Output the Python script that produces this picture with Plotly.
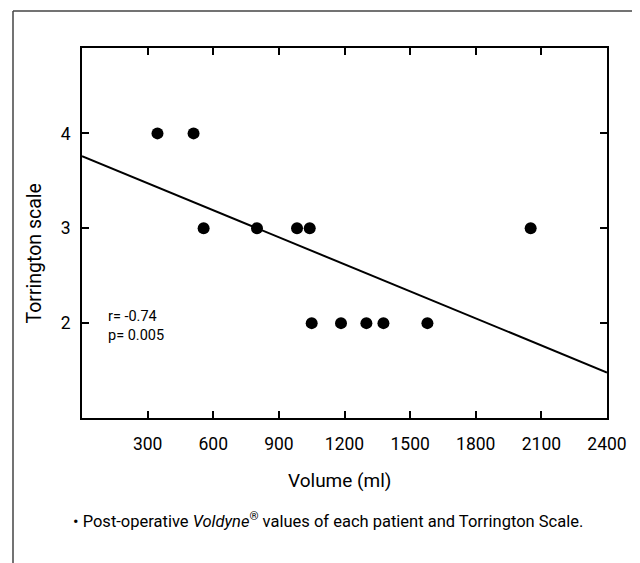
import plotly.graph_objects as go

# Data
volume_ml = [345, 510, 556, 800, 983, 1041, 1050, 1184, 1300, 1378, 1579, 2051]
torrington = [4, 4, 3, 3, 3, 3, 2, 2, 2, 2, 2, 3]
fit_x = [0, 2400]
fit_y = [3.76, 1.48]
x_tickvals = [300, 600, 900, 1200, 1500, 1800, 2100, 2400]
x_ticktext = ["300", "600", "900", "1200", "1500", "1800", "2100", "2400"]
y_tickvals = [2, 3, 4]
y_ticktext = ["2", "3", "4"]
stats_text = "r= -0.74<br>p= 0.005"

FONT = "Roboto, Liberation Sans, sans-serif"

fig = go.Figure()
fig.add_trace(go.Scatter(
    x=fit_x, y=fit_y, mode="lines",
    line=dict(color="black", width=2), hoverinfo="skip", showlegend=False,
))
fig.add_trace(go.Scatter(
    x=volume_ml, y=torrington, mode="markers",
    marker=dict(color="black", size=12), showlegend=False,
))

axis_common = dict(
    showline=True, linecolor="black", linewidth=2, mirror="ticks",
    ticks="inside", ticklen=7, tickwidth=2, tickcolor="black",
    showgrid=False, zeroline=False,
    tickfont=dict(family=FONT, size=17.5, color="black"),
)
fig.update_xaxes(range=[0, 2400], tickvals=x_tickvals, ticktext=x_ticktext,
                 ticklabelstandoff=9, **axis_common)
fig.update_yaxes(range=[1, 4.9], tickvals=y_tickvals, ticktext=y_ticktext,
                 ticklabelstandoff=6, **axis_common)

# page offset (body margin) of the photographed page
OFF = 8
W, H = 640 - OFF, 563 - OFF
L, T = 82 - OFF, 48 - OFF
R = W - (607 - OFF)
B = H - (418 - OFF)
pw, ph = W - L - R, H - T - B

def px(x):
    return (x - OFF - L) / pw

def py(y):
    return (H - B - (y - OFF)) / ph

annotations = [
    dict(text="Volume (ml)", x=px(339.5), y=py(480), xref="paper", yref="paper",
         showarrow=False, xanchor="center", yanchor="middle",
         font=dict(family=FONT, size=19, color="black")),
    dict(text="Torrington scale", x=px(33.5), y=py(254), xref="paper", yref="paper",
         showarrow=False, xanchor="center", yanchor="middle", textangle=-90,
         font=dict(family=FONT, size=19.5, color="black")),
    dict(text=stats_text, x=px(106), y=py(326), xref="paper", yref="paper",
         showarrow=False, xanchor="left", yanchor="middle", align="left",
         font=dict(family=FONT, size=14.5, color="black")),
    dict(text="• Post-operative <i>Voldyne</i><sup>®</sup> values of each patient and Torrington Scale.",
         x=px(327.5), y=py(520), xref="paper", yref="paper",
         showarrow=False, xanchor="center", yanchor="middle",
         font=dict(family=FONT, size=16.5, color="black")),
]

frame_col = "#444444"
shapes = [
    dict(type="line", xref="paper", yref="paper", x0=px(13), x1=px(13), y0=py(563), y1=py(11),
         line=dict(color=frame_col, width=1.5)),
    dict(type="line", xref="paper", yref="paper", x0=px(13), x1=px(638), y0=py(11), y1=py(11),
         line=dict(color=frame_col, width=1.5)),
    dict(type="line", xref="paper", yref="paper", x0=px(638), x1=px(638), y0=py(563), y1=py(11),
         line=dict(color=frame_col, width=1.5)),
]

fig.update_layout(
    width=W, height=H,
    margin=dict(l=L, r=R, t=T, b=B, pad=0),
    paper_bgcolor="white", plot_bgcolor="white",
    font=dict(family=FONT, color="black"),
    annotations=annotations, shapes=shapes,
)

fig.write_html("out.html")
